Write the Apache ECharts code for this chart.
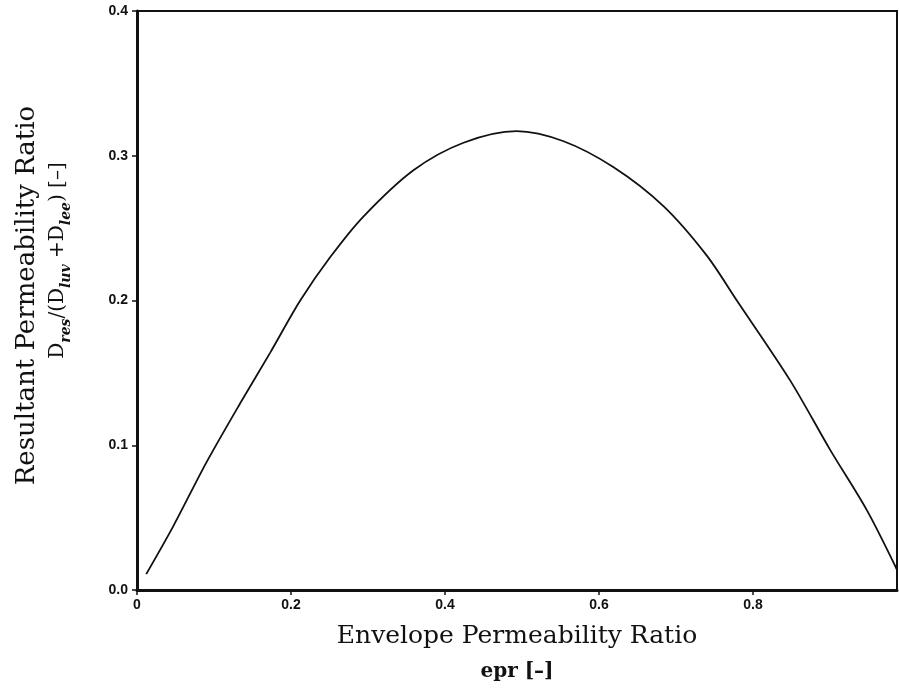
<!DOCTYPE html>
<html>
<head>
<meta charset="utf-8">
<script src="https://cdn.jsdelivr.net/npm/echarts@6/dist/echarts.min.js"></script>
<style>
  html, body { margin: 0; padding: 0; background: #fff; }
  #chart { width: 899px; height: 690px; }
</style>
</head>
<body>
<div id="chart"></div>
<script>
// points
const eprValues = [0.012, 0.047, 0.09, 0.134, 0.173, 0.212, 0.251, 0.294, 0.359, 0.424, 0.493,
  0.554, 0.619, 0.684, 0.74, 0.779, 0.848, 0.9, 0.948, 0.987];
const ratioValues = [0.011, 0.044, 0.088, 0.129, 0.164, 0.2, 0.23, 0.258, 0.29, 0.309, 0.317,
  0.31, 0.292, 0.265, 0.231, 0.2, 0.145, 0.097, 0.055, 0.014];

const xTicks = [0, 0.2, 0.4, 0.6, 0.8];
const yTicks = [0, 0.1, 0.2, 0.3, 0.4];

const chart = echarts.init(document.getElementById('chart'));

const serif = 'DejaVu Serif';
const sans = 'Liberation Sans';

const options = {
  animation: false,
  grid: {
    left: 137,
    right: 2,
    top: 11,
    bottom: 100,
    show: true,
    borderColor: '#111',
    borderWidth: 2,
  },
  xAxis: {
    type: 'value',
    min: 0,
    max: 0.987,
    interval: 0.2,
    axisLine: { lineStyle: { color: '#111', width: 3 } },
    axisTick: { show: true, length: 5, lineStyle: { color: '#111', width: 1.5 } },
    splitLine: { show: false },
    axisLabel: {
      showMaxLabel: false,
      color: '#111',
      fontFamily: sans,
      fontWeight: 'bold',
      fontSize: 14,
      margin: 8,
      formatter: v => (v === 0 ? '0' : v.toFixed(1)),
    },
    name: '{a|Envelope Permeability Ratio}\n{b|epr [–]}',
    nameLocation: 'middle',
    nameGap: 27,
    nameTextStyle: {
      verticalAlign: 'top',
      rich: {
        a: { fontFamily: serif, fontSize: 25, color: '#111', lineHeight: 38 },
        b: { fontFamily: serif, fontSize: 20, fontWeight: 'bold', color: '#111', lineHeight: 34 },
      },
    },
  },
  yAxis: {
    type: 'value',
    min: 0,
    max: 0.4,
    interval: 0.1,
    axisLine: { show: true, lineStyle: { color: '#111', width: 3 } },
    axisTick: { show: true, length: 5, lineStyle: { color: '#111', width: 1.5 } },
    splitLine: { show: false },
    axisLabel: {
      color: '#111',
      fontFamily: sans,
      fontWeight: 'bold',
      fontSize: 14,
      margin: 9,
      formatter: v => v.toFixed(1),
    },
    name: '{a|Resultant Permeability Ratio}\n{f|D}{s|res}{d|/(D}{s|luv}{d| +D}{s|lee}{d|) [–]}',
    nameLocation: 'middle',
    nameGap: 64,
    nameTextStyle: {
      rich: {
        a: { fontFamily: serif, fontSize: 26, color: '#111', lineHeight: 32, padding: [0, 0, 0, 10] },
        d: { fontFamily: serif, fontSize: 20, color: '#111', lineHeight: 30 },
        f: { fontFamily: serif, fontSize: 20, color: '#111', lineHeight: 30, padding: [0, 0, 0, 80] },
        s: { fontFamily: serif, fontSize: 14, fontStyle: 'italic', fontWeight: 'bold', color: '#111',
             lineHeight: 30, verticalAlign: 'bottom', padding: [6, 0, 0, 0] },
      },
    },
  },
  series: [
    {
      type: 'line',
      data: eprValues.map((x, i) => [x, ratioValues[i]]),
      smooth: 0.3,
      showSymbol: false,
      lineStyle: { color: '#111', width: 1.8 },
    },
  ],
};

chart.setOption(options);
</script>
</body>
</html>
